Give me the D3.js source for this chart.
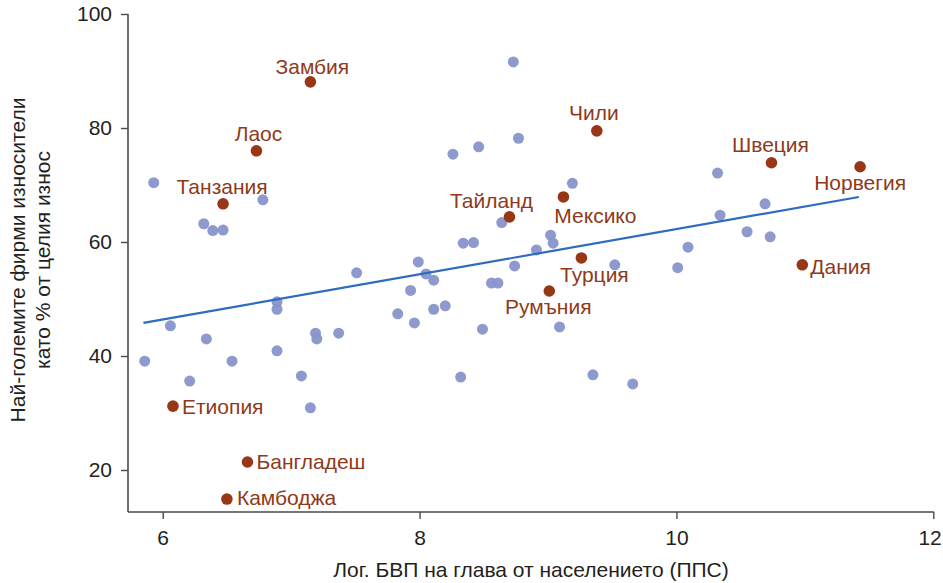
<!DOCTYPE html>
<html>
<head>
<meta charset="utf-8">
<script src="https://cdn.jsdelivr.net/npm/d3@7"></script>
<style>
  body { margin: 0; background: #fff; }
  svg { display: block; font-family: "Liberation Sans", Arial, sans-serif; }
</style>
</head>
<body>
<svg id="chart" width="943" height="583"></svg>
<script>
// ---- Data ----
const otherX = [5.86, 5.93, 6.06, 6.21, 6.32, 6.39, 6.47, 6.34, 6.54, 6.78, 6.89, 6.89, 6.89, 7.08, 7.15, 7.19, 7.20, 7.37, 7.51,
  7.83, 7.93, 7.96, 7.99, 8.05, 8.11, 8.11, 8.20, 8.26, 8.32, 8.34, 8.42, 8.46, 8.49, 8.56, 8.61, 8.64, 8.73, 8.74, 8.77,
  8.91, 9.02, 9.04, 9.09, 9.19, 9.35, 9.52, 9.66, 10.01, 10.09, 10.32, 10.34, 10.55, 10.69, 10.73];
const otherY = [39.1, 70.4, 45.3, 35.6, 63.2, 62.0, 62.1, 43.0, 39.1, 67.4, 49.5, 48.2, 40.9, 36.5, 30.9, 44.0, 43.0, 44.0, 54.6,
  47.4, 51.5, 45.8, 56.5, 54.4, 53.3, 48.2, 48.8, 75.4, 36.3, 59.8, 59.9, 76.7, 44.7, 52.8, 52.8, 63.4, 91.6, 55.8, 78.2,
  58.6, 61.2, 59.8, 45.1, 70.3, 36.7, 56.0, 35.1, 55.5, 59.1, 72.1, 64.7, 61.8, 66.7, 60.9];

const namedCountries = ["Замбия", "Лаос", "Танзания", "Чили", "Тайланд", "Мексико", "Турция", "Румъния",
  "Швеция", "Норвегия", "Дания", "Етиопия", "Бангладеш", "Камбоджа"];
const namedX = [7.15, 6.73, 6.47, 9.38, 8.70, 9.12, 9.26, 9.01, 10.74, 11.43, 10.98, 6.08, 6.66, 6.50];
const namedY = [88.1, 76.0, 66.7, 79.5, 64.4, 67.9, 57.2, 51.4, 73.9, 73.2, 56.0, 31.2, 21.4, 14.9];

const fitX = [5.85, 11.42];
const fitY = [45.8, 67.9];

const xTicks = [6, 8, 10, 12];
const yTicks = [20, 40, 60, 80, 100];

const xTitle = "Лог. БВП на глава от населението (ППС)";
const yTitle = ["Най-големите фирми износители", "като % от целия износ"];

// ---- Layout / style (not data) ----
const labelPos = {
  "Замбия":   {dx: 2,   dy: -8,  anchor: "middle"},
  "Лаос":     {dx: 2,   dy: -10, anchor: "middle"},
  "Танзания": {dx: -1,  dy: -10, anchor: "middle"},
  "Чили":     {dx: -3,  dy: -11, anchor: "middle"},
  "Тайланд":  {dx: -18, dy: -9,  anchor: "middle"},
  "Мексико":  {dx: 32,  dy: 26,  anchor: "middle"},
  "Турция":   {dx: 13,  dy: 24,  anchor: "middle"},
  "Румъния":  {dx: -1,  dy: 23,  anchor: "middle"},
  "Швеция":   {dx: -1,  dy: -11, anchor: "middle"},
  "Норвегия": {dx: 0,   dy: 23,  anchor: "middle"},
  "Дания":    {dx: 8,   dy: 9,   anchor: "start"},
  "Етиопия":  {dx: 9,   dy: 8,   anchor: "start"},
  "Бангладеш":{dx: 9,   dy: 7,   anchor: "start"},
  "Камбоджа": {dx: 10,  dy: 6,   anchor: "start"}
};

const plotLeft = 128, plotRight = 933, plotTop = 14, plotBottom = 512;
const fontSize = 21;

const x = d3.scaleLinear().domain([6, 12]).range([162.7, 933.3]);
const y = d3.scaleLinear().domain([20, 100]).range([470, 14]);

const svg = d3.select("#chart");
const axisColor = "#4a4a4a";

// Axes
const xAxis = svg.append("g")
  .attr("transform", `translate(0,${plotBottom})`)
  .call(d3.axisBottom(x).tickValues(xTicks).tickFormat(d3.format("d")).tickSize(7).tickPadding(11).tickSizeOuter(0));
xAxis.select(".domain").remove();
xAxis.append("line").attr("x1", plotLeft).attr("x2", plotRight + 1).attr("y1", 0).attr("y2", 0)
  .attr("stroke", axisColor).attr("stroke-width", 1.6);

const yAxis = svg.append("g")
  .attr("transform", `translate(${plotLeft},0)`)
  .call(d3.axisLeft(y).tickValues(yTicks).tickFormat(d3.format("d")).tickSize(7).tickPadding(9).tickSizeOuter(0));
yAxis.select(".domain").remove();
yAxis.append("line").attr("x1", 0).attr("x2", 0).attr("y1", plotTop).attr("y2", plotBottom)
  .attr("stroke", axisColor).attr("stroke-width", 1.6);

[xAxis, yAxis].forEach(g => {
  g.selectAll(".tick line").attr("stroke", axisColor).attr("stroke-width", 1.4);
  g.selectAll(".tick text").attr("fill", "#231f20").attr("font-size", fontSize)
    .attr("font-family", "'Liberation Sans', Arial, sans-serif");
});
// keep the last x tick label inside the page
xAxis.selectAll(".tick text").filter(d => d === 12).attr("text-anchor", "end").attr("dx", 8);

// Titles
svg.append("text").attr("x", 531).attr("y", 577).attr("text-anchor", "middle")
  .attr("font-size", fontSize).attr("fill", "#231f20").text(xTitle);

const yt = svg.append("text").attr("transform", "translate(25,260) rotate(-90)")
  .attr("text-anchor", "middle").attr("font-size", fontSize).attr("fill", "#231f20");
yt.selectAll("tspan").data(yTitle).join("tspan")
  .attr("x", 0).attr("dy", (d, i) => i === 0 ? 0 : 25).text(d => d);

// Other countries (blue)
svg.append("g").selectAll("circle").data(otherX.map((v, i) => [v, otherY[i]])).join("circle")
  .attr("cx", d => x(d[0])).attr("cy", d => y(d[1])).attr("r", 5.5)
  .attr("fill", "#8894cb").attr("fill-opacity", 0.95);

// Regression line
svg.append("path")
  .datum(fitX.map((v, i) => [v, fitY[i]]))
  .attr("d", d3.line().x(d => x(d[0])).y(d => y(d[1])))
  .attr("stroke", "#2e6cc0").attr("stroke-width", 2.2).attr("fill", "none");

// Named countries (red)
const named = namedCountries.map((n, i) => ({name: n, x: namedX[i], y: namedY[i]}));
svg.append("g").selectAll("circle").data(named).join("circle")
  .attr("cx", d => x(d.x)).attr("cy", d => y(d.y)).attr("r", 5.8)
  .attr("fill", "#983716");

svg.append("g").selectAll("text").data(named).join("text")
  .attr("x", d => x(d.x) + labelPos[d.name].dx)
  .attr("y", d => y(d.y) + labelPos[d.name].dy)
  .attr("text-anchor", d => labelPos[d.name].anchor)
  .attr("font-size", fontSize).attr("fill", "#8e3a1a")
  .text(d => d.name);
</script>
</body>
</html>
